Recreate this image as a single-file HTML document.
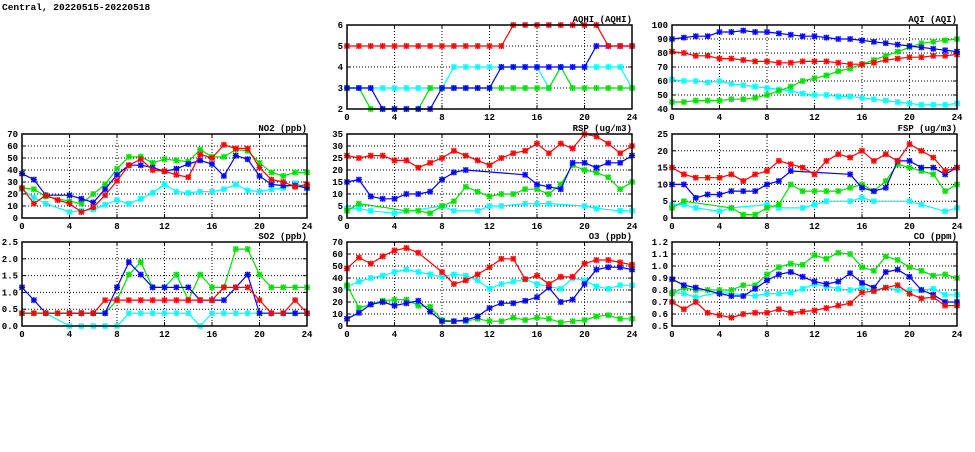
<!DOCTYPE html>
<html><head><meta charset="utf-8"><style>
body{margin:0;background:#fff;width:975px;height:447px;overflow:hidden}
svg text{font-family:"Liberation Mono","DejaVu Sans Mono",monospace;font-weight:bold;font-size:9px;fill:#000}
</style></head><body>
<svg id="s" width="975" height="447" xmlns="http://www.w3.org/2000/svg">
<text x="2" y="10" style="font-size:9.5px">Central, 20220515-20220518</text>
</svg>
<script>
const N=null;
const C={r:"#ff0000",b:"#0000ff",g:"#00e000",c:"#00ffff"};
const panels=[
{x:347,y:25,t:"AQHI (AQHI)",min:2,max:6,ticks:[2,3,4,5,6],fmt:v=>v,s:[
["c",[3,3,3,3,3,3,3,3,3,4,4,4,4,4,4,4,4,3,4,4,4,4,4,4,3]],
["g",[3,3,2,2,2,2,2,3,3,3,3,3,3,3,3,3,3,3,4,3,3,3,3,3,3]],
["b",[3,3,3,2,2,2,2,2,3,3,3,3,3,4,4,4,4,4,4,4,4,5,5,5,5]],
["r",[5,5,5,5,5,5,5,5,5,5,5,5,5,5,6,6,6,6,6,6,6,6,5,5,5]]]},
{x:672,y:25,t:"AQI (AQI)",min:40,max:100,ticks:[40,50,60,70,80,90,100],fmt:v=>v,s:[
["c",[61,60,60,59,60,58,57,56,55,54,53,51,50,50,49,49,48,47,46,45,44,43,43,43,44]],
["g",[45,45,46,46,46,47,47,48,50,53,56,60,62,64,67,69,72,75,78,81,84,87,88,89,90]],
["r",[81,80,78,78,76,76,75,74,74,73,73,74,74,74,73,72,72,73,75,76,77,77,78,78,79]],
["b",[90,91,92,92,95,95,96,95,95,94,93,92,92,91,90,90,89,88,87,86,85,84,83,82,81]]]},
{x:22,y:134,t:"NO2 (ppb)",min:0,max:70,ticks:[0,10,20,30,40,50,60,70],fmt:v=>v,s:[
["c",[24,17,12,N,5,6,7,11,15,12,16,21,28,22,21,22,22,24,28,23,22,24,25,29,25]],
["g",[25,24,18,N,14,12,20,28,41,51,51,46,49,48,47,57,51,51,57,56,46,38,35,38,38]],
["b",[37,32,19,N,19,16,13,24,36,44,44,42,39,41,45,48,45,35,52,49,35,28,27,27,25]],
["r",[25,12,19,15,12,5,9,19,31,44,49,40,39,36,34,53,50,61,58,58,42,32,30,26,28]]]},
{x:347,y:134,t:"RSP (ug/m3)",min:0,max:35,ticks:[0,5,10,15,20,25,30,35],fmt:v=>v,s:[
["c",[4,4,3,N,2,N,N,N,5,3,N,3,5,5,N,6,6,6,N,N,5,4,N,3,3]],
["g",[3,6,N,N,N,3,3,2,5,7,13,11,9,10,10,12,12,10,14,22,20,19,17,12,15]],
["b",[15,16,9,8,8,10,10,11,16,19,20,N,N,N,N,18,14,13,12,23,23,21,23,23,26]],
["r",[26,25,26,26,24,24,21,23,25,28,26,24,22,25,27,28,31,27,31,29,35,34,31,27,30]]]},
{x:672,y:134,t:"FSP (ug/m3)",min:0,max:25,ticks:[0,5,10,15,20,25],fmt:v=>v,s:[
["c",[4,4,3,N,2,3,N,N,4,3,N,3,4,5,N,5,6,5,N,N,5,4,N,2,3]],
["g",[3,5,N,N,N,3,1,1,3,4,10,8,8,8,8,9,10,8,11,16,15,14,13,8,10]],
["b",[10,10,6,7,7,8,8,8,10,11,14,N,N,N,N,13,9,8,9,17,17,15,15,13,15]],
["r",[15,13,12,12,12,13,11,13,14,17,16,15,13,17,19,18,20,17,19,17,22,20,18,14,15]]]},
{x:22,y:242,t:"SO2 (ppb)",min:0,max:2.5,ticks:[0,.5,1,1.5,2,2.5],fmt:v=>v.toFixed(1),s:[
["c",[.38,.38,.38,N,0,0,0,0,0,.38,.38,.38,.38,.38,.38,0,.38,.38,.38,.38,.38,.38,.38,.38,.38]],
["g",[.38,.38,.38,.38,.38,.38,.38,.38,.77,1.53,1.9,1.15,1.15,1.53,.77,1.53,1.15,1.15,2.29,2.29,1.53,1.15,1.15,1.15,1.15]],
["b",[1.15,.77,.38,N,.38,.38,.38,.38,1.15,1.9,1.53,1.15,1.15,1.15,1.15,.77,.77,.77,1.15,1.53,.38,.38,.38,.38,.38]],
["r",[.38,.38,.38,.38,.38,.38,.38,.77,.77,.77,.77,.77,.77,.77,.77,.77,.77,1.15,1.15,1.15,.77,.38,.38,.77,.38]]]},
{x:347,y:242,t:"O3 (ppb)",min:0,max:70,ticks:[0,10,20,30,40,50,60,70],fmt:v=>v,s:[
["c",[33,37,40,42,45,47,45,43,41,43,42,38,31,35,37,39,35,33,31,40,38,33,31,34,34]],
["g",[34,15,18,21,22,22,17,16,5,4,4,6,4,4,7,5,7,6,3,4,5,8,9,6,6]],
["b",[6,11,18,20,17,19,21,12,4,4,5,8,15,19,19,21,24,32,20,22,35,47,49,49,47]],
["r",[48,57,52,58,63,65,61,N,45,35,38,43,49,56,56,39,42,35,41,41,52,55,55,53,51]]]},
{x:672,y:242,t:"CO (ppm)",min:.5,max:1.2,ticks:[.5,.6,.7,.8,.9,1,1.1,1.2],fmt:v=>v.toFixed(1),s:[
["c",[.78,.77,.74,N,.78,N,N,.75,.77,.77,.78,.81,.85,.83,.81,.8,.82,.8,.82,.8,.8,.8,.81,.76,.76]],
["g",[.77,.82,.8,.8,.8,.8,.84,.84,.93,.99,1.02,1.01,1.09,1.06,1.11,1.1,.99,.96,1.08,1.05,.99,.96,.92,.93,.9]],
["b",[.89,.84,.82,N,.77,.75,.75,.81,.88,.93,.95,.91,.87,.85,.87,.94,.86,.82,.95,.97,.91,.8,.76,.7,.7]],
["r",[.7,.64,.7,.61,.59,.57,.6,.61,.61,.64,.61,.62,.63,.65,.67,.69,.78,.79,.82,.84,.77,.73,.74,.67,.67]]]}
];
const W=285,H=84;let h="";
for(const p of panels){
 const X=i=>p.x+i*W/24, Y=v=>p.y+H-(v-p.min)/(p.max-p.min)*H;
 for(const t of p.ticks){const y=Y(t).toFixed(1);
  if(t>p.min&&t<p.max)h+=`<line x1="${p.x}" x2="${p.x+W}" y1="${y}" y2="${y}" stroke="#000" stroke-width="1" stroke-dasharray="1,2"/>`;
  h+=`<line x1="${p.x}" x2="${p.x+4}" y1="${y}" y2="${y}" stroke="#000"/><line x1="${p.x+W-4}" x2="${p.x+W}" y1="${y}" y2="${y}" stroke="#000"/>`;
  h+=`<text x="${p.x-4}" y="${+y+3}" text-anchor="end">${p.fmt(t)}</text>`;}
 for(let i=0;i<=24;i+=4){const x=X(i).toFixed(1);
  if(i>0&&i<24)h+=`<line x1="${x}" x2="${x}" y1="${p.y}" y2="${p.y+H}" stroke="#000" stroke-dasharray="1,2"/>`;
  h+=`<line x1="${x}" x2="${x}" y1="${p.y+H-4}" y2="${p.y+H}" stroke="#000"/><line x1="${x}" x2="${x}" y1="${p.y}" y2="${p.y+4}" stroke="#000"/>`;
  h+=`<text x="${x}" y="${p.y+H+11}" text-anchor="middle">${i}</text>`;}
 h+=`<text x="${p.x+W}" y="${p.y-3}" text-anchor="end">${p.t}</text>`;
 for(const [c,d] of p.s){const col=C[c];let seg=[];
  d.forEach((v,i)=>{if(v!==N)seg.push([X(i),Y(v)]);});
  h+=`<polyline fill="none" stroke="${col}" stroke-width="1.2" points="${seg.map(q=>q[0].toFixed(1)+","+q[1].toFixed(1)).join(" ")}"/>`;
  for(const [x,y] of seg){h+=`<path d="M${x-2.5},${y-2.5}L${x+2.5},${y+2.5}M${x-2.5},${y+2.5}L${x+2.5},${y-2.5}M${x-3},${y}H${x+3}M${x},${y-3}V${y+3}" stroke="${col}" stroke-width="1.2"/><rect x="${x-2.2}" y="${y-2.2}" width="4.4" height="4.4" fill="none" stroke="${col}" stroke-opacity="0.45"/>`;}
 }
 h+=`<rect x="${p.x}" y="${p.y}" width="${W}" height="${H}" fill="none" stroke="#000" stroke-width="1.5"/>`;
}
document.getElementById("s").insertAdjacentHTML("beforeend",h);
</script>
</body></html>
